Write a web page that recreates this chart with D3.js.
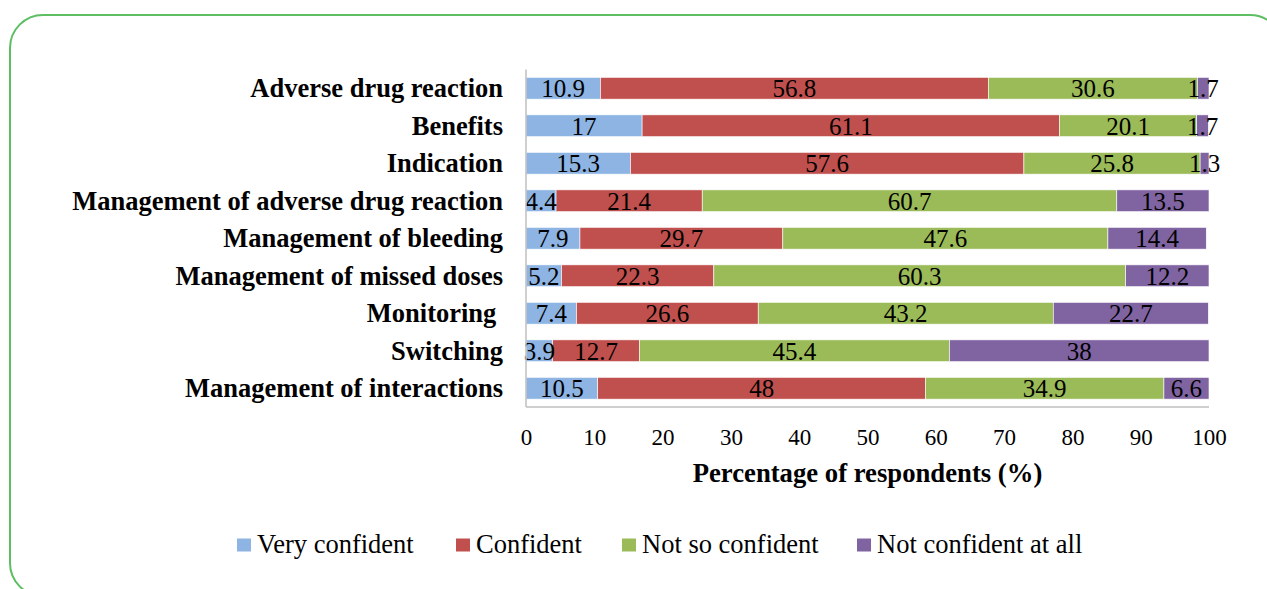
<!DOCTYPE html>
<html><head><meta charset="utf-8">
<script src="https://cdn.jsdelivr.net/npm/d3@7"></script>
<style>body{margin:0;background:#fff}svg{display:block}</style>
</head><body>
<svg id="c" width="1267" height="589"></svg>
<script>
const categories = ["Adverse drug reaction","Benefits","Indication","Management of adverse drug reaction","Management of bleeding","Management of missed doses","Monitoring ","Switching","Management of interactions"];
const seriesNames = ["Very confident","Confident","Not so confident","Not confident at all"];
const veryConfident = [10.9,17,15.3,4.4,7.9,5.2,7.4,3.9,10.5];
const confident = [56.8,61.1,57.6,21.4,29.7,22.3,26.6,12.7,48];
const notSoConfident = [30.6,20.1,25.8,60.7,47.6,60.3,43.2,45.4,34.9];
const notConfidentAtAll = [1.7,1.7,1.3,13.5,14.4,12.2,22.7,38,6.6];
const xTicks = [0,10,20,30,40,50,60,70,80,90,100];
const colors = ["#8DB4E2","#C0504D","#9BBB59","#8064A2"];

const svg = d3.select("#c");
const font = "'Liberation Serif','Times New Roman',serif";

svg.append("rect").attr("x",10).attr("y",15).attr("width",1273).attr("height",581)
  .attr("rx",33).attr("fill","none").attr("stroke","#5DBE62").attr("stroke-width",2);

const m = {left:526, right:1209, top:69.5, bottom:407};
const x = d3.scaleLinear().domain([0,100]).range([m.left,m.right]);
const y = d3.scaleBand().domain(categories).range([m.top,m.bottom]).paddingInner(0.42).paddingOuter(0.21);

const rows = categories.map((c,i)=>({cat:c, vals:[veryConfident[i],confident[i],notSoConfident[i],notConfidentAtAll[i]]}));
const segs = [];
rows.forEach(r=>{let acc=0; r.vals.forEach((v,j)=>{segs.push({cat:r.cat,j,v,x0:acc,x1:acc+v}); acc+=v;});});

const g = svg.append("g");
g.selectAll("rect.bar").data(segs).join("rect").attr("class","bar")
  .attr("x",d=>x(d.x0)).attr("width",d=>x(d.x1)-x(d.x0))
  .attr("y",d=>y(d.cat)).attr("height",y.bandwidth())
  .attr("fill",d=>colors[d.j]).attr("stroke","#fff").attr("stroke-width",0.6);

g.selectAll("text.lab").data(segs).join("text").attr("class","lab")
  .attr("x",d=>(x(d.x0)+x(d.x1))/2).attr("y",d=>y(d.cat)+y.bandwidth()/2)
  .attr("dy","0.35em").attr("text-anchor","middle")
  .attr("font-family",font).attr("font-size",25).attr("fill","#000")
  .text(d=>d.v);

// axes lines
svg.append("line").attr("x1",m.left).attr("x2",m.left).attr("y1",m.top).attr("y2",m.bottom)
  .attr("stroke","#BFBFBF").attr("stroke-width",1.5);
svg.append("line").attr("x1",m.left).attr("x2",m.right).attr("y1",m.bottom).attr("y2",m.bottom)
  .attr("stroke","#BFBFBF").attr("stroke-width",1.5);

const xAxis = d3.axisBottom(x).tickValues(xTicks).tickSize(0).tickPadding(0);
const ax = svg.append("g").attr("transform",`translate(0,${m.bottom})`).call(xAxis);
ax.select(".domain").remove();
ax.selectAll("text").attr("font-family",font).attr("font-size",23).attr("fill","#000")
  .attr("dy",null).attr("y",38);

const yAxis = d3.axisLeft(y).tickSize(0).tickPadding(23);
const ay = svg.append("g").attr("transform",`translate(${m.left},0)`).call(yAxis);
ay.select(".domain").remove();
ay.selectAll("text").attr("font-family",font).attr("font-size",26.5).attr("font-weight","bold").attr("fill","#000")
  .attr("dy","0.34em")
  .style("white-space","pre").attr("xml:space","preserve");

svg.append("text").attr("x",(m.left+m.right)/2).attr("y",482).attr("text-anchor","middle")
  .attr("font-family",font).attr("font-size",26.7).attr("font-weight","bold").text("Percentage of respondents (%)");

const legX = [237,456,622,857];
const leg = svg.append("g");
seriesNames.forEach((s,i)=>{
  leg.append("rect").attr("x",legX[i]).attr("y",538.5).attr("width",14).attr("height",13).attr("fill",colors[i]);
  leg.append("text").attr("x",legX[i]+20).attr("y",553).attr("font-family",font).attr("font-size",26.5).text(s);
});
</script>
</body></html>
